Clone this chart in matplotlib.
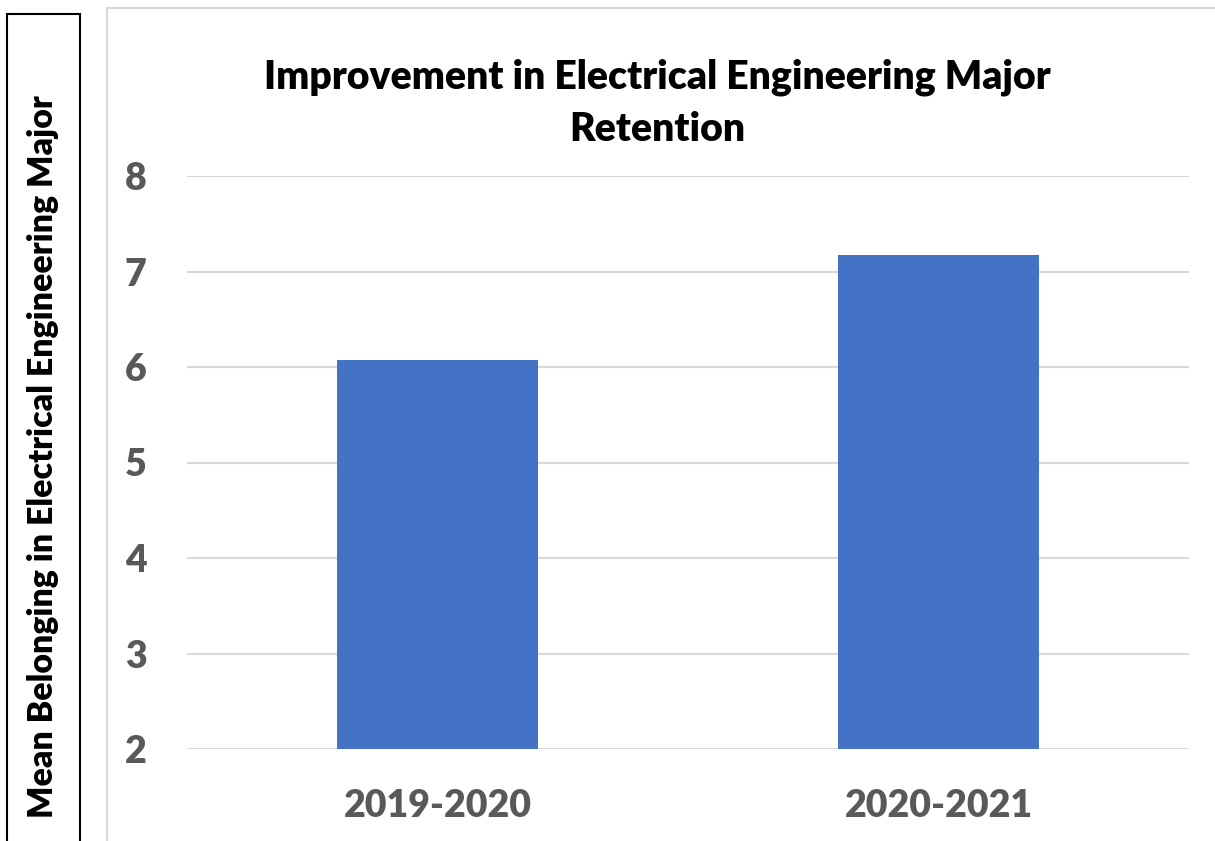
import matplotlib
matplotlib.use("Agg")
import matplotlib.pyplot as plt
from matplotlib.patches import Rectangle

plt.rcParams['font.family'] = ['Lato', 'DejaVu Sans']

years = ["2019-2020", "2020-2021"]
belonging = [6.07, 7.17]
y_ticks = [2, 3, 4, 5, 6, 7, 8]

W, H = 1215, 841
fig = plt.figure(figsize=(W / 100, H / 100), dpi=100)

# outer frames (chart area border and the separate y-label box)
fig.patches.append(Rectangle((107 / W, -0.01), 1.1, 1 - 8 / H + 0.01, transform=fig.transFigure,
                             fill=False, edgecolor='#d9d9d9', linewidth=1.5))
fig.patches.append(Rectangle((7 / W, -0.01), 73 / W, 1 - 14 / H + 0.01, transform=fig.transFigure,
                             fill=False, edgecolor='black', linewidth=1.5))

ax = fig.add_axes([187 / W, 1 - 749 / H, (1189 - 187) / W, (749 - 176) / H])
ax.bar(years, belonging, width=0.4, color='#4472c4', zorder=3)
ax.set_ylim(2, 8)
ax.set_xlim(-0.5, 1.5)
ax.set_yticks(y_ticks)
ax.grid(axis='y', color='#d9d9d9', linewidth=1.5, zorder=0)
for s in ax.spines.values():
    s.set_visible(False)
ax.tick_params(axis='both', length=0, labelcolor='#595959', labelsize=27)
ax.tick_params(axis='y', pad=29)
ax.tick_params(axis='x', pad=29)
for lab in ax.get_xticklabels() + ax.get_yticklabels():
    lab.set_fontweight('heavy')

fig.text(657 / W, 1 - 103 / H, "Improvement in Electrical Engineering Major\nRetention",
         ha='center', va='center', fontsize=28.2, fontweight='heavy', linespacing=1.5)
fig.text(43 / W, 1 - 457 / H, "Mean Belonging in Electrical Engineering Major",
         rotation=90, ha='center', va='center', fontsize=24.4, fontweight='heavy')

fig.savefig("out.png", dpi=100)
